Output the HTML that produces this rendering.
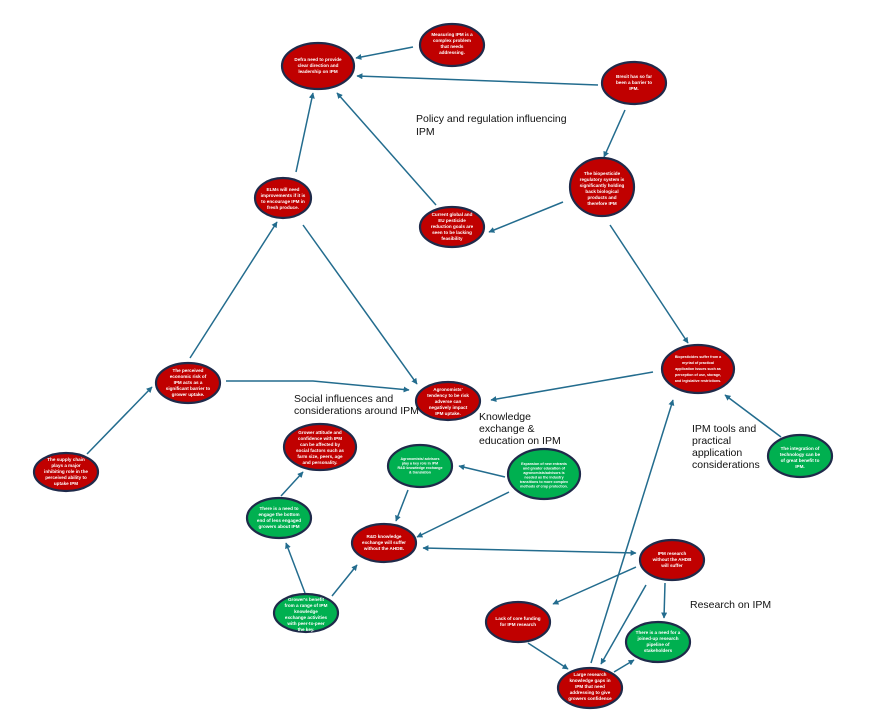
<!DOCTYPE html>
<html><head><meta charset="utf-8"><style>
html,body{margin:0;padding:0;background:#fff;}
svg{display:block;}
.n{stroke:#1f2a4a;stroke-width:2.2;}
.r{fill:#c00000;}
.g{fill:#00b050;}
.t{font-family:"Liberation Sans",sans-serif;font-size:4.6px;font-weight:bold;fill:#fff;text-anchor:middle;}
.l{font-family:"Liberation Sans",sans-serif;font-size:10.5px;fill:#111;}
.a{stroke:#236c8e;stroke-width:1.5;fill:none;marker-end:url(#ah);}
</style></head><body>
<svg width="880" height="723" viewBox="0 0 880 723" xmlns="http://www.w3.org/2000/svg">
<defs>
<marker id="ah" viewBox="0 0 10 10" refX="9" refY="5" markerWidth="6" markerHeight="6" orient="auto-start-reverse" markerUnits="userSpaceOnUse"><path d="M0,0 L10,5 L0,10 z" fill="#236c8e"/></marker>
</defs>
<line class="a" x1="413" y1="47" x2="356" y2="58"/>
<line class="a" x1="598" y1="85" x2="357" y2="76"/>
<line class="a" x1="625" y1="110" x2="604" y2="157"/>
<line class="a" x1="563" y1="202" x2="489" y2="232"/>
<line class="a" x1="436" y1="205" x2="337" y2="93"/>
<line class="a" x1="296" y1="172" x2="313" y2="93"/>
<line class="a" x1="303" y1="225" x2="417" y2="384"/>
<line class="a" x1="190" y1="358" x2="277" y2="222"/>
<polyline class="a" points="226,381 313,381 409,390"/>
<line class="a" x1="87" y1="454" x2="152" y2="387"/>
<line class="a" x1="610" y1="225" x2="688" y2="343"/>
<line class="a" x1="653" y1="372" x2="491" y2="400"/>
<line class="a" x1="781" y1="437" x2="725" y2="395"/>
<line class="a" x1="281" y1="496" x2="303" y2="472"/>
<line class="a" x1="505" y1="477" x2="459" y2="466"/>
<line class="a" x1="509" y1="492" x2="417" y2="537"/>
<line class="a" x1="408" y1="490" x2="396" y2="521"/>
<line class="a" x1="305" y1="593" x2="286" y2="543"/>
<line class="a" x1="332" y1="596" x2="357" y2="565"/>
<line class="a" x1="423" y1="548" x2="636" y2="553" style="marker-start:url(#ah)"/>
<line class="a" x1="636" y1="567" x2="553" y2="604"/>
<line class="a" x1="665" y1="583" x2="664" y2="618"/>
<line class="a" x1="646" y1="585" x2="601" y2="664"/>
<line class="a" x1="528" y1="643" x2="568" y2="669"/>
<line class="a" x1="614" y1="672" x2="634" y2="660"/>
<line class="a" x1="591" y1="663" x2="673" y2="400"/>

<ellipse class="n r" cx="318" cy="66" rx="36" ry="23"/>
<text class="t" x="318" y="61"><tspan x="318">Defra need to provide</tspan><tspan x="318" dy="6">clear direction and</tspan><tspan x="318" dy="6">leadership on IPM</tspan></text>
<ellipse class="n r" cx="452" cy="45" rx="32" ry="21"/>
<text class="t" x="452" y="36"><tspan x="452">Measuring IPM is a</tspan><tspan x="452" dy="6">complex problem</tspan><tspan x="452" dy="6">that needs</tspan><tspan x="452" dy="6">addressing.</tspan></text>
<ellipse class="n r" cx="634" cy="83" rx="32" ry="21"/>
<text class="t" x="634" y="78"><tspan x="634">Brexit has so far</tspan><tspan x="634" dy="6">been a barrier to</tspan><tspan x="634" dy="6">IPM.</tspan></text>
<ellipse class="n r" cx="602" cy="187" rx="32" ry="29"/>
<text class="t" x="602" y="175"><tspan x="602">The biopesticide</tspan><tspan x="602" dy="6">regulatory system is</tspan><tspan x="602" dy="6">significantly holding</tspan><tspan x="602" dy="6">back biological</tspan><tspan x="602" dy="6">products and</tspan><tspan x="602" dy="6">therefore IPM</tspan></text>
<ellipse class="n r" cx="452" cy="227" rx="32" ry="20"/>
<text class="t" x="452" y="216"><tspan x="452">Current global and</tspan><tspan x="452" dy="6">EU pesticide</tspan><tspan x="452" dy="6">reduction goals are</tspan><tspan x="452" dy="6">seen to be lacking</tspan><tspan x="452" dy="6">feasibility</tspan></text>
<ellipse class="n r" cx="283" cy="198" rx="28" ry="20"/>
<text class="t" x="283" y="191"><tspan x="283">ELMs will need</tspan><tspan x="283" dy="6">improvements if it is</tspan><tspan x="283" dy="6">to encourage IPM in</tspan><tspan x="283" dy="6">fresh produce.</tspan></text>
<ellipse class="n r" cx="188" cy="383" rx="32" ry="20"/>
<text class="t" x="188" y="372"><tspan x="188">The perceived</tspan><tspan x="188" dy="6">economic risk of</tspan><tspan x="188" dy="6">IPM acts as a</tspan><tspan x="188" dy="6">significant barrier to</tspan><tspan x="188" dy="6">grower uptake.</tspan></text>
<ellipse class="n r" cx="66" cy="472" rx="32" ry="19"/>
<text class="t" x="66" y="461"><tspan x="66">The supply chain</tspan><tspan x="66" dy="6">plays a major</tspan><tspan x="66" dy="6">inhibiting role in the</tspan><tspan x="66" dy="6">perceived ability to</tspan><tspan x="66" dy="6">uptake IPM</tspan></text>
<ellipse class="n r" cx="448" cy="401" rx="32" ry="19"/>
<text class="t" x="448" y="391"><tspan x="448">Agronomists'</tspan><tspan x="448" dy="6">tendency to be risk</tspan><tspan x="448" dy="6">adverse can</tspan><tspan x="448" dy="6">negatively impact</tspan><tspan x="448" dy="6">IPM uptake.</tspan></text>
<ellipse class="n r" cx="320" cy="447" rx="36" ry="23"/>
<text class="t" x="320" y="434"><tspan x="320">Grower attitude and</tspan><tspan x="320" dy="6">confidence with IPM</tspan><tspan x="320" dy="6">can be affected by</tspan><tspan x="320" dy="6">social factors such as</tspan><tspan x="320" dy="6">farm size, peers, age</tspan><tspan x="320" dy="6">and personality.</tspan></text>
<ellipse class="n g" cx="420" cy="466" rx="32" ry="21"/>
<text class="t" x="420" y="460" style="font-size:3.6px"><tspan x="420">Agronomists/ advisors</tspan><tspan x="420" dy="4.5">play a key role in IPM</tspan><tspan x="420" dy="4.5">R&amp;D knowledge exchange</tspan><tspan x="420" dy="4.5">&amp; translation</tspan></text>
<ellipse class="n g" cx="544" cy="474" rx="36" ry="25"/>
<text class="t" x="544" y="465" style="font-size:3.6px"><tspan x="544">Expansion of new entrants</tspan><tspan x="544" dy="4.5">and greater education of</tspan><tspan x="544" dy="4.5">agronomists/advisors is</tspan><tspan x="544" dy="4.5">needed as the industry</tspan><tspan x="544" dy="4.5">transitions to more complex</tspan><tspan x="544" dy="4.5">methods of crop protection.</tspan></text>
<ellipse class="n r" cx="698" cy="369" rx="36" ry="24"/>
<text class="t" x="698" y="358" style="font-size:3.6px"><tspan x="698">Biopesticides suffer from a</tspan><tspan x="698" dy="6">myriad of practical</tspan><tspan x="698" dy="6">application issues such as</tspan><tspan x="698" dy="6">perception of use, storage,</tspan><tspan x="698" dy="6">and legislative restrictions.</tspan></text>
<ellipse class="n g" cx="800" cy="456" rx="32" ry="21"/>
<text class="t" x="800" y="450"><tspan x="800">The integration of</tspan><tspan x="800" dy="6">technology can be</tspan><tspan x="800" dy="6">of great benefit to</tspan><tspan x="800" dy="6">IPM.</tspan></text>
<ellipse class="n g" cx="279" cy="518" rx="32" ry="20"/>
<text class="t" x="279" y="510"><tspan x="279">There is a need to</tspan><tspan x="279" dy="6">engage the bottom</tspan><tspan x="279" dy="6">end of less engaged</tspan><tspan x="279" dy="6">growers about IPM</tspan></text>
<ellipse class="n r" cx="384" cy="543" rx="32" ry="19"/>
<text class="t" x="384" y="538"><tspan x="384">R&amp;D knowledge</tspan><tspan x="384" dy="6">exchange will suffer</tspan><tspan x="384" dy="6">without the AHDB.</tspan></text>
<ellipse class="n g" cx="306" cy="613" rx="32" ry="19"/>
<text class="t" x="306" y="601"><tspan x="306">Grower's benefit</tspan><tspan x="306" dy="6">from a range of IPM</tspan><tspan x="306" dy="6">knowledge</tspan><tspan x="306" dy="6">exchange activities</tspan><tspan x="306" dy="6">with peer-to-peer</tspan><tspan x="306" dy="6">the key.</tspan></text>
<ellipse class="n r" cx="672" cy="560" rx="32" ry="20"/>
<text class="t" x="672" y="555"><tspan x="672">IPM research</tspan><tspan x="672" dy="6">without the AHDB</tspan><tspan x="672" dy="6">will suffer</tspan></text>
<ellipse class="n r" cx="518" cy="622" rx="32" ry="20"/>
<text class="t" x="518" y="620"><tspan x="518">Lack of core funding</tspan><tspan x="518" dy="6">for IPM research</tspan></text>
<ellipse class="n g" cx="658" cy="642" rx="32" ry="20"/>
<text class="t" x="658" y="634"><tspan x="658">There is a need for a</tspan><tspan x="658" dy="6">joined-up research</tspan><tspan x="658" dy="6">pipeline of</tspan><tspan x="658" dy="6">stakeholders</tspan></text>
<ellipse class="n r" cx="590" cy="688" rx="32" ry="20"/>
<text class="t" x="590" y="676"><tspan x="590">Large research</tspan><tspan x="590" dy="6">knowledge gaps in</tspan><tspan x="590" dy="6">IPM that need</tspan><tspan x="590" dy="6">addressing to give</tspan><tspan x="590" dy="6">growers confidence</tspan></text>

<text class="l" x="416" y="122">Policy and regulation influencing</text>
<text class="l" x="416" y="135">IPM</text>
<text class="l" x="294" y="402">Social influences and</text>
<text class="l" x="294" y="414">considerations around IPM</text>
<text class="l" x="479" y="420">Knowledge</text>
<text class="l" x="479" y="432">exchange &amp;</text>
<text class="l" x="479" y="444">education on IPM</text>
<text class="l" x="692" y="432">IPM tools and</text>
<text class="l" x="692" y="444">practical</text>
<text class="l" x="692" y="456">application</text>
<text class="l" x="692" y="468">considerations</text>
<text class="l" x="690" y="608">Research on IPM</text>
</svg>
</body></html>
